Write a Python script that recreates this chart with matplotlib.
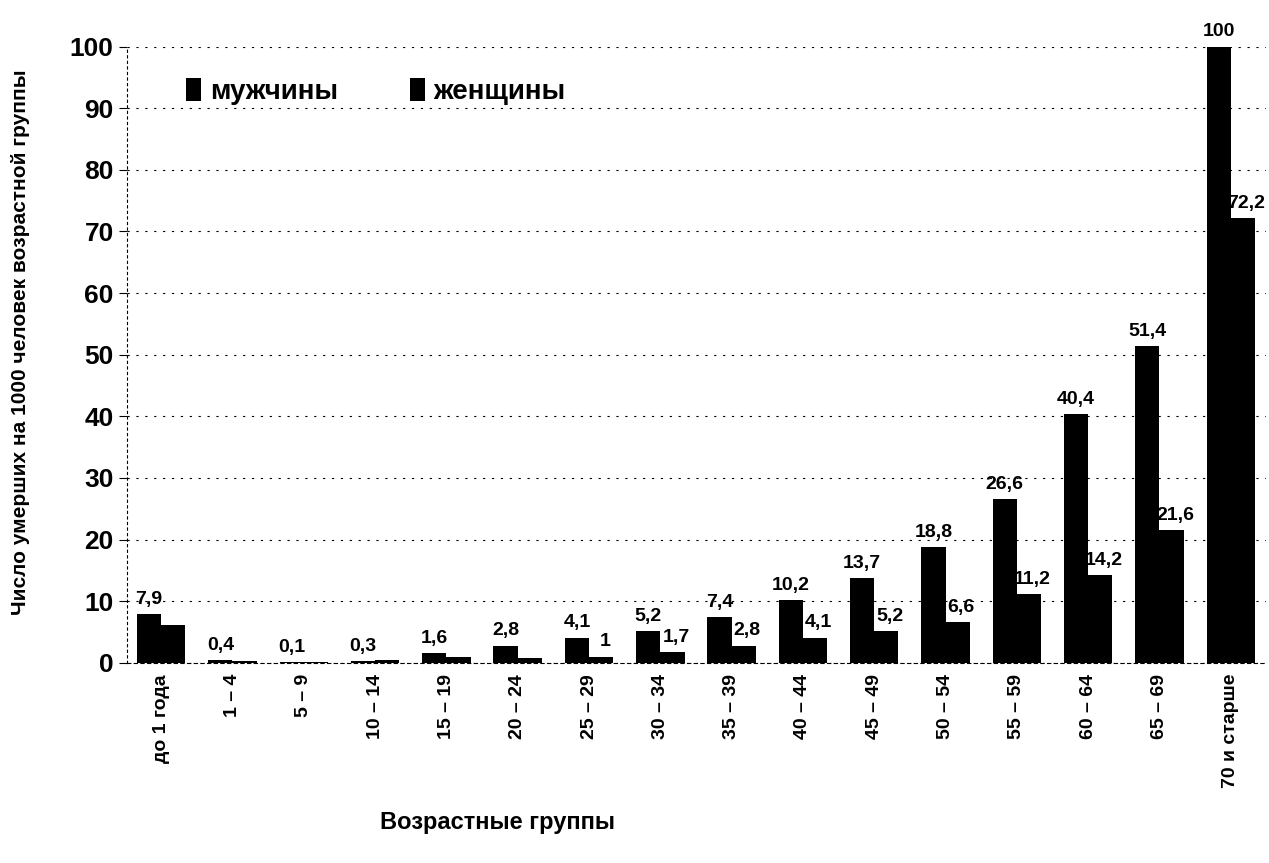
import numpy as np
import matplotlib.pyplot as plt

plt.rcParams['font.family'] = ['Liberation Sans', 'DejaVu Sans']
plt.rcParams['font.weight'] = 'bold'

# Age groups and death rates per 1000 people
groups = ['до 1 года', '1 – 4', '5 – 9', '10 – 14', '15 – 19', '20 – 24', '25 – 29',
          '30 – 34', '35 – 39', '40 – 44', '45 – 49', '50 – 54', '55 – 59',
          '60 – 64', '65 – 69', '70 и старше']
men = [7.9, 0.4, 0.1, 0.3, 1.6, 2.8, 4.1, 5.2, 7.4, 10.2, 13.7, 18.8, 26.6, 40.4, 51.4, 100]
women = [6.2, 0.3, 0.2, 0.4, 0.9, 0.8, 1, 1.7, 2.8, 4.1, 5.2, 6.6, 11.2, 14.2, 21.6, 72.2]
women_labeled_from = 6

fig = plt.figure(figsize=(12.69, 8.63), dpi=100)
ax = fig.add_axes([0.100, 0.232, 0.898, 0.714])

x = np.arange(len(groups))
w = 0.34
ax.bar(x - w / 2, men, w, color='black', label='мужчины', zorder=3)
ax.bar(x + w / 2, women, w, color='black', label='женщины', zorder=3)


def fmt(v):
    return ('%g' % v).replace('.', ',')


for xi, v in zip(x, men):
    ax.text(xi - w / 2, v + 1.0, fmt(v), ha='center', va='bottom',
            fontsize=14, fontweight='bold', zorder=4)
for xi, v in list(zip(x, women))[women_labeled_from:]:
    ax.text(xi + w / 2 + 0.05, v + 1.0, fmt(v), ha='center', va='bottom',
            fontsize=14, fontweight='bold', zorder=4)

ax.set_ylim(0, 100)
ax.set_xlim(-0.48, 15.5)
ax.set_yticks(np.arange(0, 101, 10))
ax.set_xticks(x)
ax.set_xticklabels(groups, rotation=90, fontsize=14, fontweight='bold')
ax.tick_params(axis='y', labelsize=19, length=6)
ax.tick_params(axis='x', length=0, pad=8)
for t in ax.get_yticklabels():
    t.set_fontweight('bold')

ax.grid(axis='y', color='black', linestyle=(0, (2, 6)), linewidth=0.8, zorder=0)
for s in ['top', 'right']:
    ax.spines[s].set_visible(False)
ax.spines['left'].set_linestyle((0, (2, 3)))
ax.spines['bottom'].set_linestyle((0, (3, 3)))

ax.set_ylabel('Число умерших на 1000 человек возрастной группы', fontsize=15,
              fontweight='bold')
ax.yaxis.set_label_coords(-0.085, 0.52)
ax.set_xlabel('Возрастные группы', fontsize=17, fontweight='bold')
ax.xaxis.set_label_coords(0.325, -0.24)

ax.legend(loc='upper left', bbox_to_anchor=(0.03, 0.99), ncol=2, frameon=False,
          handlelength=0.55, handleheight=0.9, handletextpad=0.3,
          columnspacing=2.6, prop={'weight': 'bold', 'size': 20})

fig.savefig('out.png', dpi=100)
